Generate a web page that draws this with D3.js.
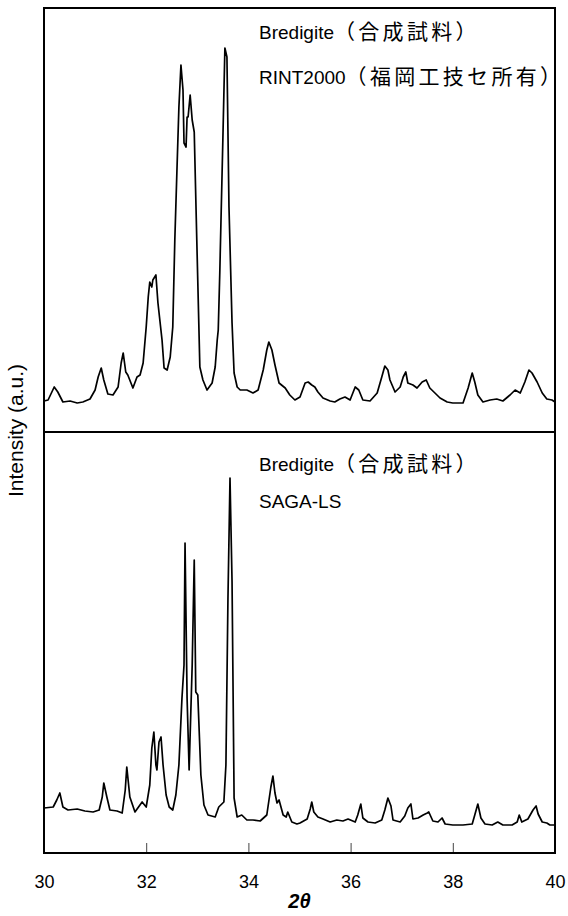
<!DOCTYPE html>
<html>
<head>
<meta charset="utf-8">
<script src="https://cdn.jsdelivr.net/npm/d3@7"></script>
<style>
  body { margin: 0; background: #fff; }
  svg { display: block; font-family: "Liberation Sans", Arial, sans-serif; }
</style>
</head>
<body>
<div id="chart"></div>
<script>
// 2theta (deg) and intensity (a.u.)
const rintAngle = [30.00, 30.08, 30.20, 30.27, 30.37, 30.51, 30.65, 30.76, 30.90, 31.00,
  31.06, 31.12, 31.17, 31.25, 31.35, 31.45, 31.51, 31.55, 31.60, 31.64,
  31.74, 31.82, 31.88, 31.94, 32.00, 32.04, 32.07, 32.11, 32.13, 32.19,
  32.23, 32.31, 32.35, 32.41, 32.47, 32.52, 32.56, 32.60, 32.64, 32.68,
  32.72, 32.74, 32.78, 32.80, 32.82, 32.86, 32.90, 32.94, 32.99, 33.05,
  33.11, 33.19, 33.29, 33.35, 33.39, 33.41, 33.44, 33.50, 33.54, 33.58,
  33.62, 33.68, 33.72, 33.78, 33.84, 33.97, 34.09, 34.19, 34.29, 34.36,
  34.40, 34.46, 34.52, 34.60, 34.72, 34.81, 34.91, 35.01, 35.11, 35.17,
  35.24, 35.30, 35.36, 35.46, 35.60, 35.69, 35.79, 35.89, 35.99, 36.09,
  36.16, 36.24, 36.38, 36.52, 36.61, 36.67, 36.73, 36.77, 36.87, 36.97,
  37.03, 37.08, 37.12, 37.22, 37.30, 37.40, 37.48, 37.55, 37.65, 37.75,
  37.89, 38.00, 38.20, 38.30, 38.38, 38.43, 38.49, 38.59, 38.73, 38.86,
  38.98, 39.12, 39.22, 39.32, 39.41, 39.49, 39.55, 39.65, 39.75, 39.84,
  39.94, 40.00]
const rintIntensity = [31, 32, 45, 40, 30, 31, 29, 30, 33, 42,
  55, 64, 52, 38, 37, 45, 69, 79, 60, 57,
  44, 55, 57, 69, 105, 135, 150, 145, 152, 157,
  129, 92, 64, 62, 75, 105, 192, 259, 325, 367,
  342, 289, 285, 315, 315, 337, 312, 300, 192, 65,
  52, 42, 49, 65, 92, 102, 159, 292, 384, 375,
  225, 109, 59, 45, 42, 42, 39, 42, 62, 82,
  90, 82, 67, 49, 44, 37, 32, 35, 49, 50,
  47, 45, 40, 34, 31, 30, 33, 35, 32, 45,
  42, 32, 31, 39, 55, 66, 62, 52, 40, 45,
  55, 60, 49, 47, 44, 50, 52, 44, 39, 34,
  30, 29, 29, 44, 59, 50, 37, 30, 32, 33,
  31, 37, 42, 39, 50, 62, 59, 50, 39, 33,
  32, 30]

const sagaAngle = [30.00, 30.18, 30.25, 30.31, 30.37, 30.47, 30.65, 30.80, 30.96, 31.08,
  31.14, 31.17, 31.23, 31.29, 31.43, 31.53, 31.59, 31.62, 31.68, 31.78,
  31.92, 32.00, 32.07, 32.11, 32.15, 32.19, 32.21, 32.25, 32.29, 32.33,
  32.39, 32.45, 32.52, 32.58, 32.64, 32.70, 32.74, 32.76, 32.80, 32.84,
  32.90, 32.94, 32.97, 33.01, 33.07, 33.13, 33.21, 33.35, 33.42, 33.52,
  33.56, 33.60, 33.64, 33.68, 33.72, 33.78, 33.87, 33.97, 34.09, 34.23,
  34.36, 34.44, 34.48, 34.52, 34.56, 34.60, 34.68, 34.74, 34.77, 34.85,
  34.95, 35.01, 35.15, 35.21, 35.24, 35.28, 35.36, 35.46, 35.60, 35.73,
  35.85, 35.95, 36.09, 36.14, 36.20, 36.24, 36.34, 36.48, 36.61, 36.67,
  36.73, 36.79, 36.83, 36.97, 37.06, 37.12, 37.18, 37.22, 37.32, 37.42,
  37.50, 37.53, 37.61, 37.71, 37.79, 37.85, 38.00, 38.20, 38.38, 38.43,
  38.49, 38.55, 38.63, 38.77, 38.88, 38.98, 39.16, 39.26, 39.30, 39.35,
  39.47, 39.57, 39.63, 39.67, 39.75, 39.84, 39.90, 40.00]
const sagaIntensity = [45, 46, 53, 60, 46, 43, 44, 42, 41, 43,
  56, 70, 56, 43, 42, 40, 63, 86, 56, 41,
  51, 46, 68, 105, 121, 88, 83, 111, 116, 88,
  58, 46, 43, 58, 88, 155, 188, 310, 155, 83,
  188, 293, 161, 158, 78, 48, 38, 36, 46, 51,
  88, 255, 375, 271, 55, 36, 38, 33, 33, 32,
  38, 66, 77, 60, 50, 53, 38, 36, 41, 31,
  29, 30, 34, 44, 51, 41, 36, 34, 31, 33,
  32, 34, 31, 38, 49, 35, 31, 30, 33, 43,
  55, 47, 33, 31, 37, 45, 49, 34, 35, 38,
  40, 41, 32, 31, 35, 29, 28, 28, 29, 38,
  49, 35, 29, 28, 31, 28, 28, 31, 38, 31,
  34, 43, 47, 39, 31, 30, 28, 28]

const xTicks = [30, 32, 34, 36, 38, 40]
const panelLabels = [
  ["Bredigite", "（合成試料）", "RINT2000", "（福岡工技セ所有）"],
  ["Bredigite", "（合成試料）", "SAGA-LS", ""]
]

const W = 568, H = 916
const plotLeft = 44, plotRight = 555, plotTop = 8, plotMid = 432, plotBottom = 853

const svg = d3.select("#chart").append("svg")
  .attr("width", W)
  .attr("height", H)

const x = d3.scaleLinear().domain([30, 40]).range([plotLeft, plotRight])
const yTop = d3.scaleLinear().domain([0, 424]).range([plotMid, plotTop])
const yBot = d3.scaleLinear().domain([0, 421]).range([plotBottom, plotMid])

// curves
const panels = [
  { ang: rintAngle, val: rintIntensity, y: yTop },
  { ang: sagaAngle, val: sagaIntensity, y: yBot }
]

panels.forEach(p => {
  const pts = p.ang.map((a, i) => [a, p.val[i]])
  const line = d3.line()
    .x(d => x(d[0]))
    .y(d => p.y(d[1]))
  svg.append("path")
    .datum(pts)
    .attr("d", line)
    .attr("fill", "none")
    .attr("stroke", "#000")
    .attr("stroke-width", 1.7)
    .attr("stroke-linejoin", "round")
})

// bottom axis, ticks pointing inward
const xAxis = d3.axisBottom(x)
  .tickValues(xTicks)
  .tickFormat(d3.format("d"))
  .tickSizeInner(-10)
  .tickSizeOuter(0)
  .tickPadding(22)

const gx = svg.append("g")
  .attr("transform", "translate(0," + plotBottom + ")")
  .call(xAxis)
gx.select(".domain").remove()
gx.selectAll(".tick line").attr("stroke", "#444").attr("stroke-width", 1)
gx.selectAll(".tick text")
  .attr("font-size", "18px")
  .attr("font-family", "Liberation Sans, Arial, sans-serif")
  .attr("fill", "#000")

// frame and divider
svg.append("rect")
  .attr("x", plotLeft).attr("y", plotTop)
  .attr("width", plotRight - plotLeft).attr("height", plotBottom - plotTop)
  .attr("fill", "none").attr("stroke", "#000").attr("stroke-width", 2)

svg.append("line")
  .attr("x1", plotLeft).attr("x2", plotRight)
  .attr("y1", plotMid).attr("y2", plotMid)
  .attr("stroke", "#000").attr("stroke-width", 2)

// panel labels
const labelY = [[39, 84], [471, 508]]
panelLabels.forEach((lab, i) => {
  [0, 1].forEach(j => {
    const t = svg.append("text")
      .attr("x", 259)
      .attr("y", labelY[i][j])
      .attr("font-size", "19px")
      .attr("fill", "#000")
    t.append("tspan").text(lab[j * 2])
    if (lab[j * 2 + 1]) {
      t.append("tspan")
        .attr("font-family", "Noto Sans CJK JP, sans-serif")
        .attr("font-size", "21px")
        .attr("letter-spacing", "3.3px")
        .text(lab[j * 2 + 1])
    }
  })
})

// axis titles
svg.append("text")
  .attr("transform", "translate(23," + (plotTop + plotBottom) / 2 + ") rotate(-90)")
  .attr("text-anchor", "middle")
  .attr("font-size", "21px")
  .text("Intensity (a.u.)")

svg.append("text")
  .attr("x", (plotLeft + plotRight) / 2)
  .attr("y", 908)
  .attr("text-anchor", "middle")
  .attr("font-size", "20px")
  .attr("font-weight", "bold")
  .attr("font-style", "italic")
  .text("2θ")
</script>
</body>
</html>
